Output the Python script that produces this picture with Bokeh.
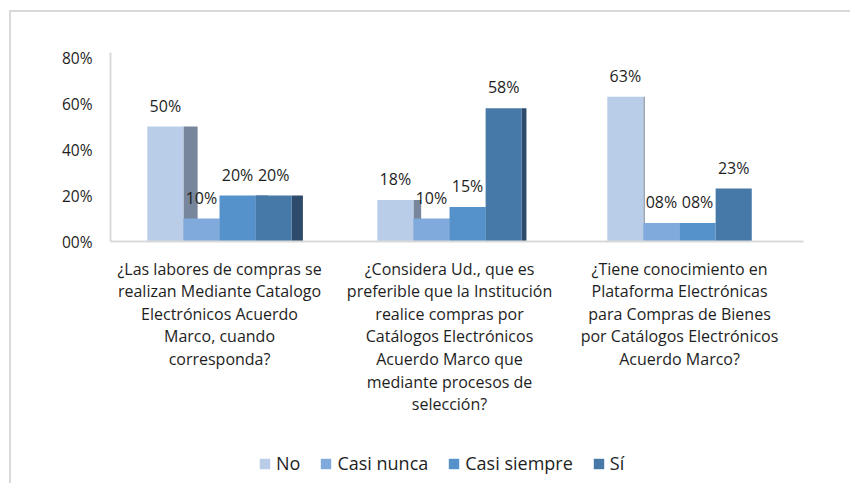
import numpy as np
from bokeh.plotting import figure
from bokeh.layouts import column
from bokeh.models import (ColumnDataSource, FixedTicker, LabelSet, Legend,
                          LegendItem, Range1d)
from bokeh.core.properties import value
from bokeh.embed import file_html
from bokeh.resources import INLINE

# ---------------- data ----------------
questions = [
    "¿Las labores de compras se\nrealizan Mediante Catalogo\nElectrónicos Acuerdo\nMarco, cuando\ncorresponda?",
    "¿Considera Ud., que es\npreferible que la Institución\nrealice compras por\nCatálogos Electrónicos\nAcuerdo Marco que\nmediante procesos de\nselección?",
    "¿Tiene conocimiento en\nPlataforma Electrónicas\npara Compras de Bienes\npor Catálogos Electrónicos\nAcuerdo Marco?",
]
series = ["No", "Casi nunca", "Casi siempre", "Sí"]
no = [50, 18, 63]
casi_nunca = [10, 10, 8]
casi_siempre = [20, 15, 8]
si = [20, 58, 23]
y_ticks = [0, 20, 40, 60, 80]
y_tick_labels = ["00%", "20%", "40%", "60%", "80%"]

values = [no, casi_nunca, casi_siempre, si]
front_colors = ["#B9CDE9", "#7FAADB", "#5592CB", "#4678A8"]
side_colors = ["#77869A", "#5A7FA8", "#3F6F9E", "#2E4B6B"]
FONT = "Open Sans"
TXT = "#1E1E1E"

p = figure(width=839, height=431, output_backend="svg", toolbar_location=None,
           x_range=Range1d(0.026, 3.039), y_range=Range1d(0, 82.2),
           min_border_left=99, min_border_right=47,
           min_border_top=40, min_border_bottom=202)
p.outline_line_color = None
p.grid.grid_line_color = None

centers = np.arange(len(questions)) + 0.5
w = 0.157
px_per_unit = 230.0


def depth(xr):
    # pseudo-3D side depth, shrinking towards the right (perspective)
    xpx = 110 + (np.asarray(xr) - 0.026) * px_per_unit
    return np.clip(0.028 * (690 - xpx), 0, None) / px_per_unit


# side faces first
for k, vals in enumerate(values):
    xs = centers + (k - 1.5) * w
    right = xs + w / 2
    src = ColumnDataSource(dict(left=right, right=right + depth(right),
                                top=vals, bottom=[0] * len(vals)))
    p.quad(left="left", right="right", top="top", bottom="bottom", source=src,
           fill_color=side_colors[k], line_color=None)

for k, vals in enumerate(values):
    xs = centers + (k - 1.5) * w
    src = ColumnDataSource(dict(x=xs, top=vals))
    p.vbar(x="x", top="top", width=w, source=src,
           fill_color=front_colors[k], line_color=None)

# data labels
lx, ly, lt = [], [], []
for k, vals in enumerate(values):
    xs = centers + (k - 1.5) * w
    for x, v in zip(xs, vals):
        lx.append(x)
        ly.append(v)
        lt.append(f"{v:02d}%")
lab_src = ColumnDataSource(dict(x=lx, y=ly, t=lt))
p.add_layout(LabelSet(x="x", y="y", text="t", source=lab_src,
                      text_align="center", text_baseline="middle", y_offset=21,
                      text_font=value(FONT), text_font_size="16px",
                      text_color=TXT))

# axes
p.yaxis.ticker = FixedTicker(ticks=y_ticks)
p.yaxis.major_label_overrides = {t: l for t, l in zip(y_ticks, y_tick_labels)}
p.yaxis.axis_line_color = "#D9D9D9"
p.yaxis.axis_line_width = 2
p.yaxis.major_tick_line_color = None
p.yaxis.minor_tick_line_color = None
p.yaxis.major_label_standoff = 12
p.yaxis.major_label_text_font = FONT
p.yaxis.major_label_text_font_size = "15.5px"
p.yaxis.major_label_text_color = TXT

p.xaxis.ticker = FixedTicker(ticks=list(centers))
p.xaxis.major_label_overrides = {float(c): q for c, q in zip(centers, questions)}
p.xaxis.axis_line_color = "#D9D9D9"
p.xaxis.axis_line_width = 2
p.xaxis.major_tick_line_color = None
p.xaxis.minor_tick_line_color = None
p.xaxis.major_label_standoff = 10
p.xaxis.major_label_text_font = FONT
p.xaxis.major_label_text_font_size = "16px"
p.xaxis.major_label_text_line_height = 1.03
p.xaxis.major_label_text_color = TXT

# legend (separate strip below the chart)
pl = figure(width=839, height=40, output_backend="svg", toolbar_location=None,
            x_range=Range1d(0, 1), y_range=Range1d(0, 1),
            x_axis_location=None, y_axis_location=None,
            min_border=0)
pl.outline_line_color = None
pl.grid.grid_line_color = None
items = []
for k, name in enumerate(series):
    # legend-only renderer: a zero-height bar, so nothing is drawn in the strip
    r = pl.vbar(x=[0.5], top=[0], bottom=[0], width=0, fill_color=front_colors[k],
                line_color=None)
    items.append(LegendItem(label=name, renderers=[r]))
legend = Legend(items=items, orientation="horizontal", location=(148, 8),
                glyph_width=13, glyph_height=13, label_standoff=5, spacing=19,
                padding=0, margin=0, border_line_color=None,
                background_fill_alpha=0, label_text_font=FONT,
                label_text_font_size="18px", label_text_color=TXT)
pl.add_layout(legend)

layout = column(p, pl, spacing=0, margin=(10, 0, 0, 9),
                styles={"border-left": "2px solid #D9D9D9",
                        "border-top": "2px solid #D9D9D9"})

open("out.html", "w").write(file_html(layout, INLINE))
